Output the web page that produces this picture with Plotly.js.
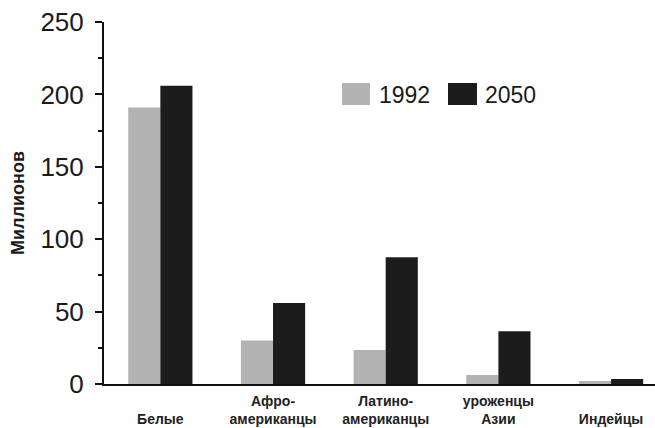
<!DOCTYPE html>
<html>
<head>
<meta charset="utf-8">
<script src="https://cdn.plot.ly/plotly-3.0.1.min.js"></script>
<style>html,body{margin:0;padding:0;background:#fff;}#chart{width:655px;height:428px;}</style>
</head>
<body>
<div id="chart"></div>
<script>
var categories = ["<br>Белые", "Афро-<br>американцы", "Латино-<br>американцы", "уроженцы<br>Азии", "<br>Индейцы"];
var values1992 = [191, 30, 23.5, 6.3, 2];
var values2050 = [206, 56, 87.5, 36.5, 3.5];
var seriesNames = ["1992", "2050"];
var yTicks = [0, 50, 100, 150, 200, 250];

var gray = "#b3b3b3", black = "#1c1c1c";

var traces = [
  {type: "bar", x: categories, y: values1992, name: seriesNames[0], marker: {color: gray}, showlegend: false},
  {type: "bar", x: categories, y: values2050, name: seriesNames[1], marker: {color: black}, showlegend: false}
];

function px(x) { return (x - 104) / 551; }
function py(y) { return (384 - y) / 362; }

var layout = {
  width: 655, height: 428,
  margin: {l: 104, r: 0, t: 22, b: 44},
  paper_bgcolor: "#fff", plot_bgcolor: "#fff",
  barmode: "group", bargap: 0.43, bargroupgap: 0,
  font: {family: "Liberation Sans, Arial, sans-serif", color: "#1a1a1a"},
  xaxis: {
    type: "category", range: [-0.5, 4.39],
    showline: true, linecolor: "#111", linewidth: 2,
    ticks: "", showgrid: false, zeroline: false,
    tickfont: {size: 14, family: "Liberation Sans, Arial, sans-serif", weight: "bold", color: "#222"},
    ticklabelstandoff: 3
  },
  yaxis: {
    range: [0, 250], tickvals: yTicks,
    showline: true, linecolor: "#111", linewidth: 2,
    ticks: "outside", ticklen: 7, tickwidth: 2, tickcolor: "#111",
    minor: {dtick: 25, ticks: "outside", ticklen: 4, tickwidth: 2, tickcolor: "#111", showgrid: false},
    showgrid: false, zeroline: false,
    ticklabelstandoff: 6,
    tickfont: {size: 26, color: "#1a1a1a"},
    title: {text: "Миллионов", font: {size: 18, weight: "bold", color: "#1a1a1a"}, standoff: 11}
  },
  shapes: [
    {type: "rect", xref: "paper", yref: "paper", x0: px(342), x1: px(370), y0: py(105), y1: py(83), fillcolor: gray, line: {width: 0}},
    {type: "rect", xref: "paper", yref: "paper", x0: px(448), x1: px(477), y0: py(105), y1: py(83), fillcolor: black, line: {width: 0}}
  ],
  annotations: [
    {xref: "paper", yref: "paper", x: px(377), y: py(95), xanchor: "left", yanchor: "middle", text: seriesNames[0], showarrow: false, font: {size: 23, color: "#1a1a1a"}},
    {xref: "paper", yref: "paper", x: px(483), y: py(95), xanchor: "left", yanchor: "middle", text: seriesNames[1], showarrow: false, font: {size: 23, color: "#1a1a1a"}}
  ]
};

Plotly.newPlot("chart", traces, layout, {displayModeBar: false, staticPlot: true});
</script>
</body>
</html>
